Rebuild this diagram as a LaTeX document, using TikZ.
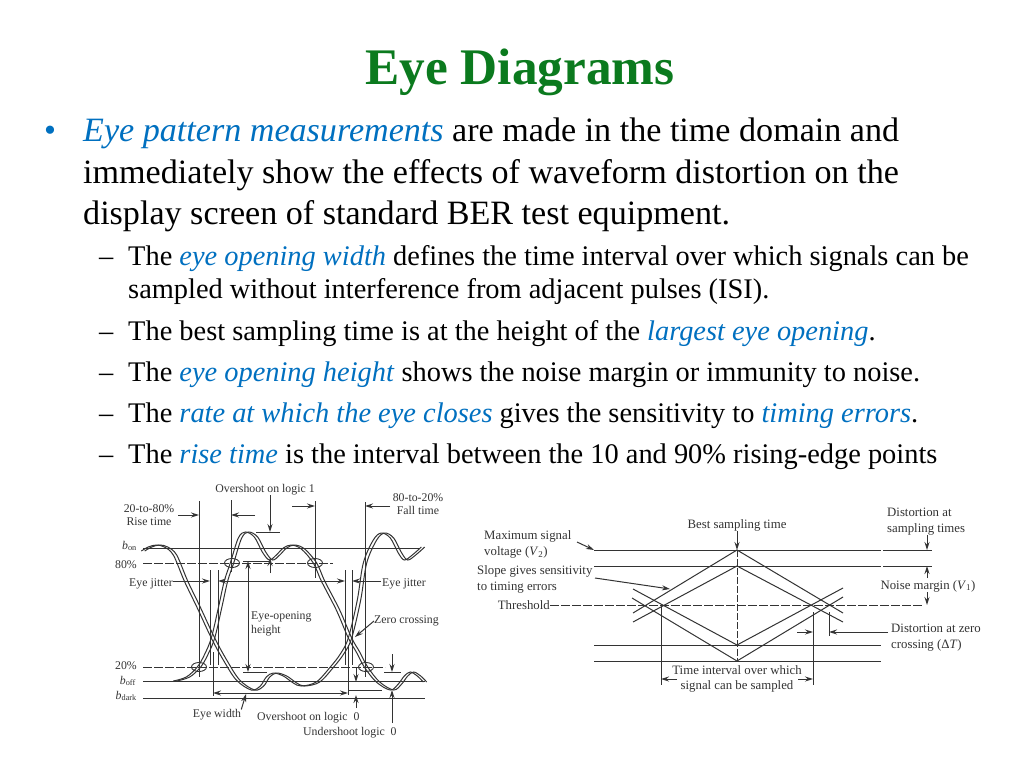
\documentclass[tikz,border=0pt]{standalone}
\usepackage{fontspec}
\setmainfont{Liberation Serif}
\usetikzlibrary{arrows.meta}
\definecolor{kgreen}{HTML}{0B7A1E}
\definecolor{kblue}{HTML}{0070C0}
\definecolor{ink}{HTML}{333333}
\newcommand{\bluit}[1]{\textcolor{kblue}{\textit{#1}}}
\tikzset{
  title/.style={font=\fontsize{51.3}{54}\selectfont\bfseries,text=kgreen,inner sep=0,anchor=base},
  lvlone/.style={font=\fontsize{34.1}{38}\selectfont,inner sep=0,anchor=base west},
  lvltwo/.style={font=\fontsize{28.4}{32}\selectfont,inner sep=0,anchor=base west},
  lab/.style={font=\fontsize{11.8}{13.5}\selectfont,inner sep=0,text=ink,align=center},
  labr/.style={font=\fontsize{12.8}{15.5}\selectfont,inner sep=0,text=ink,align=center},
  thin line/.style={draw=ink,line width=1pt},
  tip/.style={draw=ink,line width=1pt,-{Stealth[length=8pt,width=5pt]}},
  dashline/.style={draw=ink,line width=1pt,dash pattern=on 9pt off 2pt},
  eyecurve/.style={draw=ink,line width=1pt,smooth,tension=0.55},
  ring/.style={draw=ink,line width=0.9pt}
}
\begin{document}
\begin{tikzpicture}[x=1pt,y=-1pt]
\useasboundingbox (0,0) rectangle (1024,768);
\fill[white] (0,0) rectangle (1024,768);
% ---- text
\node[title] (ttl) at (520,84) {Eye Diagrams};
\node[lvlone,text=kblue] (b1) at (44,141) {•};
\node[lvlone] (l1) at (83,141) {\bluit{Eye pattern measurements} are made in the time domain and};
\node[lvlone] (l2) at (83,183) {immediately show the effects of waveform distortion on the};
\node[lvlone] (l3) at (83,224.5) {display screen of standard BER test equipment.};
\foreach \nm/\yy in {d1/265.5,d2/340.5,d3/381.5,d4/422.5,d5/463.5}
  \node[lvltwo] (\nm) at (99,\yy) {–};
\node[lvltwo] (s1) at (128,265.5) {The \bluit{eye opening width} defines the time interval over which signals can be};
\node[lvltwo] (s1b) at (128,298.5) {sampled without interference from adjacent pulses (ISI).};
\node[lvltwo] (s2) at (128,340.5) {The best sampling time is at the height of the \bluit{largest eye opening}.};
\node[lvltwo] (s3) at (128,381.5) {The \bluit{eye opening height} shows the noise margin or immunity to noise.};
\node[lvltwo] (s4) at (128,422.5) {The \bluit{rate at which the eye closes} gives the sensitivity to \bluit{timing errors}.};
\node[lvltwo] (s5) at (128,463.5) {The \bluit{rise time} is the interval between the 10 and 90\% rising-edge points};
% ---- left diagram: labels
\node[lab] (over1) at (265,490) {Overshoot on logic 1};
\node[lab] (rise) at (149,515) {20-to-80\%\\Rise time};
\node[lab] (fall) at (418,504) {80-to-20\%\\Fall time};
\node[lab,anchor=east] (bon) at (137,546) {\textit{b}\textsubscript{on}};
\node[lab,anchor=east] (p80) at (137,565) {80\%};
\node[lab,anchor=east] (jitl) at (173,584) {Eye jitter};
\node[lab,anchor=west] (jitr) at (382,584) {Eye jitter};
\node[lab,anchor=west] (height) at (251,624) {\begin{tabular}{@{}l@{}}Eye-opening\\height\end{tabular}};
\node[lab,anchor=west] (zero) at (374,621) {Zero crossing};
\node[lab,anchor=east] (p20) at (137,666) {20\%};
\node[lab,anchor=east] (boff) at (136,681) {\textit{b}\textsubscript{off}};
\node[lab,anchor=east] (bdark) at (137,696) {\textit{b}\textsubscript{dark}};
\node[lab] (ewidth) at (217,715) {Eye width};
\node[lab,anchor=west] (over0) at (257,718) {Overshoot on logic \ 0};
\node[lab,anchor=west] (under0) at (303,733) {Undershoot logic \ 0};
% ---- left diagram: level lines
\draw[thin line] (143,548) -- (420,548);
\draw[dashline] (143,563) -- (333,563);
\draw[dashline] (143,667) -- (385,667);
\draw[thin line] (143,681) -- (425,681);
\draw[thin line] (143,698) -- (425,698);
% ---- left diagram: verticals
\draw[thin line] (199,501) -- (199,677);
\draw[thin line] (231,500) -- (231,572);
\draw[thin line] (315,501) -- (315,578);
\draw[thin line] (365,502) -- (365,677);
\draw[thin line] (210,570) -- (210,665);
\draw[thin line] (218,570) -- (218,665);
\draw[thin line] (345,570) -- (345,665);
\draw[thin line] (352,570) -- (352,665);
\draw[thin line] (213,652) -- (213,696);
\draw[thin line] (348,645) -- (348,695);
% ---- left diagram: eye curves
\foreach \sh in {-1.7,1.7}{
\begin{scope}[xshift=\sh pt]
\draw[eyecurve] plot coordinates {(143,551)(150,547)(158,545)(166,547)(175,555)(186,581)(199,608)(213,638)(225,660)(238,680)(253,690)(262,686)(268,677)(275,673)(285,676)(295,683)(303,686)(318,682)(332,667)(342,654)(350,638)(359,600)(365,563)(375,540)(383,533)(392,538)(400,553)(406,560)(414,555)(423,547)};
\draw[eyecurve] plot coordinates {(175,681)(188,677)(199,667)(206,655)(213,638)(220,608)(226,581)(232,563)(240,538)(247,532)(256,537)(264,552)(271,560)(278,555)(285,548)(293,545)(303,549)(315,563)(323,581)(338,610)(350,638)(358,652)(366,667)(378,682)(392,690)(400,684)(406,676)(412,672)(419,676)(425,682)};
\end{scope}}
\draw[ring] (232,563) ellipse [x radius=7.5,y radius=4.5];
\draw[ring] (315,563) ellipse [x radius=7.5,y radius=4.5];
\draw[ring] (199,667) ellipse [x radius=7.5,y radius=4.5];
\draw[ring] (366,667) ellipse [x radius=7.5,y radius=4.5];
% ---- left diagram: dimension arrows
\draw[tip] (178,515) -- (199,515);
\draw[tip] (255,515) -- (231,515);
\draw[tip] (292,506) -- (315,506);
\draw[tip] (390,506) -- (365,506);
\coordinate (jitla) at (210,581);
\coordinate (jitra) at (352,581);
\coordinate (jitlb) at (173,581);
\coordinate (jitrb) at (381,581);
\draw[tip] (jitlb) -- (jitla);
\draw[tip] (jitrb) -- (jitra);
\draw[tip] (250,581) -- (218,581);
\draw[tip] (250,581) -- (345,581);
\draw[thin line] (256,532) -- (280,532);
\draw[tip] (270,495) -- (270,532);
\draw[tip] (270,573) -- (270,558);
\draw[thin line] (243,561) -- (270,561);
\draw[thin line] (243,672) -- (267,672);
\draw[tip] (248,620) -- (248,561);
\draw[tip] (248,620) -- (248,672);
\draw[tip] (280,693) -- (213,693);
\draw[tip] (280,693) -- (348,693);
\coordinate (ewa) at (246,694);
\draw[tip] (ewidth.north east) -- (ewa);
\coordinate (zca) at (355,637);
\draw[tip] (zero.west) -- (zca);
\draw[thin line] (349,690) -- (382,690);
\draw[tip] (356,667) -- (356,682);
\draw[tip] (356,708) -- (356,695);
\draw[thin line] (384,672) -- (401,672);
\draw[tip] (392,654) -- (392,672);
\draw[tip] (392,723) -- (392,690);
% ---- right diagram: labels
\node[labr] (best) at (737,525) {Best sampling time};
\node[labr,anchor=west] (maxv) at (484,544.5) {\begin{tabular}{@{}l@{}}Maximum signal\\voltage (\textit{V}\textsubscript{2})\end{tabular}};
\node[labr,anchor=west] (slope) at (477,579.5) {\begin{tabular}{@{}l@{}}Slope gives sensitivity\\to timing errors\end{tabular}};
\node[labr,anchor=east] (thr) at (550,605) {Threshold};
\node[labr,anchor=west] (dsamp) at (887,521.5) {\begin{tabular}{@{}l@{}}Distortion at\\sampling times\end{tabular}};
\node[labr] (noise) at (928,586) {Noise margin (\textit{V}\textsubscript{1})};
\node[labr,anchor=west] (dzero) at (891,637.5) {\begin{tabular}{@{}l@{}}Distortion at zero\\crossing (Δ\textit{T})\end{tabular}};
\node[labr] (tint) at (737,679) {Time interval over which\\signal can be sampled};
% ---- right diagram: levels
\draw[thin line] (594,550) -- (881,550);
\draw[thin line] (883,550) -- (932,550);
\draw[thin line] (594,566) -- (881,566);
\draw[thin line] (883,566) -- (932,566);
\draw[dashline] (thr.east) -- (923,605);
\draw[thin line] (594,645) -- (881,645);
\draw[thin line] (594,661) -- (881,661);
% ---- right diagram: eye
\draw[thin line] (633,613) -- (737,550) -- (843,613);
\draw[thin line] (633,622) -- (737,566) -- (843,622);
\draw[thin line] (633,589) -- (737,645) -- (843,588);
\draw[thin line] (632,598) -- (737,661) -- (843,597);
\draw[thin line,dash pattern=on 7pt off 2pt] (737,550) -- (737,661);
% ---- right diagram: verticals and arrows
\draw[thin line] (661,605) -- (661,685);
\draw[thin line] (813,612) -- (813,685);
\draw[thin line] (829,612) -- (829,636);
\draw[tip] (677,679) -- (661,679);
\draw[tip] (798,679) -- (813,679);
\draw[tip] (797,632) -- (813,632);
\coordinate (dza) at (829,632);
\draw[tip] (888,632) -- (dza);
\coordinate (besta) at (737,550);
\draw[tip] (best.south) -- (besta);
\coordinate (maxa) at (594,550);
\draw[tip] (577,542) -- (maxa);
\coordinate (slopea) at (670,589);
\draw[tip] (595,578) -- (slopea);
\draw[tip] (927,535) -- (927,550);
\draw[tip] (927,578) -- (927,566);
\draw[tip] (927,592) -- (927,605);
\end{tikzpicture}
\end{document}
